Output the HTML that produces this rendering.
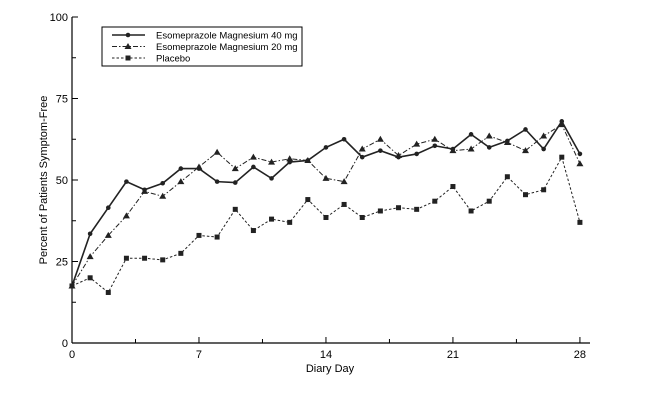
<!DOCTYPE html>
<html><head><meta charset="utf-8"><style>
html,body{margin:0;padding:0;background:#fff;}
svg{display:block;font-family:"Liberation Sans",Arial,sans-serif;}
</style></head><body>
<svg id="chart" width="660" height="410" viewBox="0 0 660 410"></svg>
<script>
const days = [0,1,2,3,4,5,6,7,8,9,10,11,12,13,14,15,16,17,18,19,20,21,22,23,24,25,26,27,28];
const esome40 = [17.5,33.5,41.5,49.5,47,49,53.5,53.5,49.5,49.2,54,50.5,55.5,56,60,62.5,57,59,57,58,60.5,59.5,64,60,62,65.5,59.5,68,58];
const esome20 = [17.5,26.5,33,39,46.5,45,49.5,54,58.5,53.5,57,55.5,56.5,56,50.5,49.5,59.5,62.5,57.5,61,62.5,59,59.5,63.5,61.5,59,63.5,67,55];
const placebo = [17.5,20,15.5,26,26,25.5,27.5,33,32.5,41,34.5,38,37,44,38.5,42.5,38.5,40.5,41.5,41,43.5,48,40.5,43.5,51,45.5,47,57,37];
const xTicks = [0,7,14,21,28];
const yTicks = [0,25,50,75,100];

const NS="http://www.w3.org/2000/svg";
const svg=document.getElementById('chart');
const X0=72,Xd=18.14,Y0=343,Yh=326;
const xs=d=>X0+d*Xd, ys=v=>Y0-v/100*Yh;
function mk(tag,attrs,parent){const e=document.createElementNS(NS,tag);for(const k in attrs)e.setAttribute(k,attrs[k]);(parent||svg).appendChild(e);return e;}

// axes
let ax=mk('line',{x1:X0,y1:ys(100),x2:X0,y2:Y0,stroke:'#000','stroke-width':1.2});


let axx=mk('line',{x1:X0,y1:Y0,x2:590,y2:Y0,stroke:'#000','stroke-width':1.2});


for(let v=0;v<=100;v+=12.5){
  const major=yTicks.includes(v);
  mk('line',{x1:X0,y1:ys(v),x2:X0+(major?6:4),y2:ys(v),stroke:'#000'});
}
yTicks.forEach(v=>{
  const t=mk('text',{x:X0-4,y:ys(v)+4,'text-anchor':'end','font-size':11});
  t.textContent=v;
  
  
});
for(let d=0;d<=28;d+=3.5){
  mk('line',{x1:xs(d),y1:Y0,x2:xs(d),y2:Y0-(xTicks.includes(d)?6:4),stroke:'#000'});
}
xTicks.forEach(d=>{
  const t=mk('text',{x:xs(d),y:Y0+15,'text-anchor':'middle','font-size':11});
  t.textContent=d;
  
  
});
let xt=mk('text',{x:330,y:372,'text-anchor':'middle','font-size':11});
xt.textContent='Diary Day';


let yt=mk('text',{x:47,y:180,'text-anchor':'middle','font-size':11,transform:'rotate(-90 47 180)'});
yt.textContent='Percent of Patients Symptom-Free';



function marker(type,x,y,g){
  if(type==='c')mk('circle',{cx:x,cy:y,r:2.3,fill:'#222'},g);
  else if(type==='t')mk('polygon',{points:`${x},${y-3.5} ${x-3.5},${y+2.5} ${x+3.5},${y+2.5}`,fill:'#222'},g);
  else mk('rect',{x:x-2.5,y:y-2.5,width:5,height:5,fill:'#222'},g);
}
function series(vals,dash,width,type,name){
  const g=mk('g',{});
  
  
  mk('polyline',{points:vals.map((v,i)=>xs(days[i])+','+ys(v)).join(' '),fill:'none',stroke:'#222','stroke-width':width,'stroke-dasharray':dash},g);
  vals.forEach((v,i)=>marker(type,xs(days[i]),ys(v),g));
}
series(placebo,'2.5,2',1,'s','series-placebo');
series(esome20,'5,2,1.5,2',1,'t','series-esome-20mg');
series(esome40,'',1.6,'c','series-esome-40mg');

// legend
const lg=mk('g',{});


mk('rect',{x:102,y:27,width:200,height:39,fill:'#fff',stroke:'#000','stroke-width':1},lg);
const items=[['Esomeprazole Magnesium 40 mg','',1.6,'c'],['Esomeprazole Magnesium 20 mg','5,2,1.5,2',1,'t'],['Placebo','2.5,2',1,'s']];
items.forEach((it,i)=>{
  const y=35+i*11.5;
  const e=mk('g',{},lg);
  
  
  mk('line',{x1:112,y1:y,x2:145,y2:y,stroke:'#222','stroke-width':it[2],'stroke-dasharray':it[1]},e);
  marker(it[3],128,y,e);
  const t=mk('text',{x:156,y:y+3.5,'font-size':9.5},e);
  t.textContent=it[0];
});
</script>
</body></html>
